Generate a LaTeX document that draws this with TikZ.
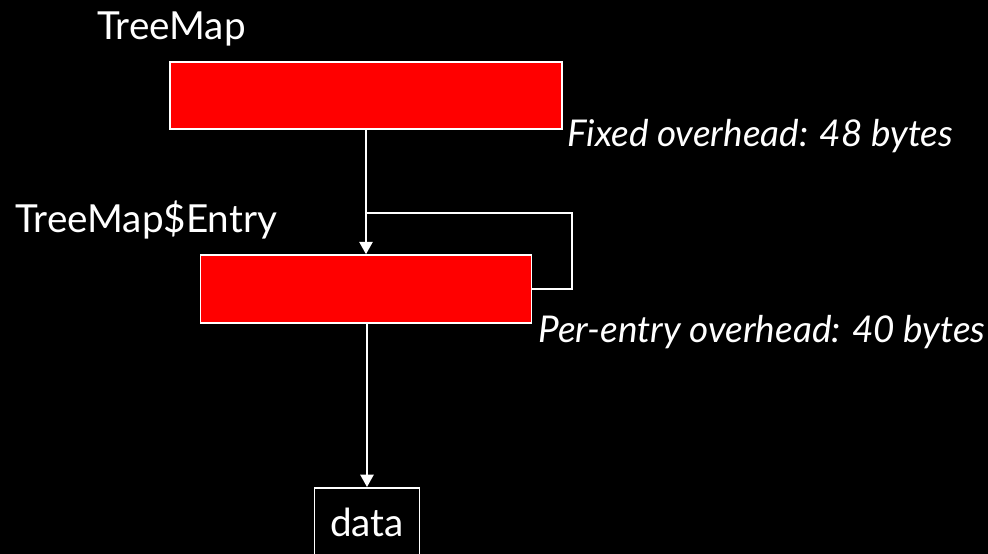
\documentclass[tikz,border=0pt]{standalone}
\usepackage{fontspec}
\setmainfont{Lato}
\usetikzlibrary{arrows.meta,positioning}

\begin{document}
\begin{tikzpicture}[x=0.02cm,y=-0.02cm,>={Triangle[width=7.5pt,length=7pt]},
  block/.style={draw=white,fill=red,line width=0.9pt,inner sep=0pt},
  lbl/.style={text=white,inner sep=0pt,font=\fontsize{22}{26}\selectfont},
  note/.style={lbl,font=\fontsize{21}{25}\selectfont\itshape},
  wire/.style={draw=white,line width=1.1pt}]
  \fill[black] (0,0) rectangle (988,554);
  \clip (0,0) rectangle (988,554);
  % the map object and one of its entries
  \node[block,minimum width=7.84cm,minimum height=1.34cm] (map) at (366,95.5) {};
  \node[block,minimum width=6.62cm,minimum height=1.36cm] (entry) at (366,289) {};
  \node[draw=white,line width=0.9pt,minimum width=2.1cm,minimum height=1.4cm,
        anchor=north,text=white,font=\fontsize{22}{26}\selectfont] (data) at (367,487) {data};
  % labels
  \node[lbl,anchor=base west] (mapname) at (97,40) {TreeMap};
  \node[lbl,anchor=base west] (entryname) at (15,233) {TreeMap\$Entry};
  \node[note,anchor=base west] (fixed) at (567,147) {Fixed overhead: 48 bytes};
  \node[note,anchor=base west] (perentry) at (538,342) {Per-entry overhead: 40 bytes};
  % pointers
  \coordinate (loop) at (366,213);
  \draw[wire,->] (map.south) -- (entry.north);
  \draw[wire] (loop) -- (572,213) |- (entry.east);
  \draw[wire,->] (entry.south -| data.north) -- (data.north);
\end{tikzpicture}
\end{document}
